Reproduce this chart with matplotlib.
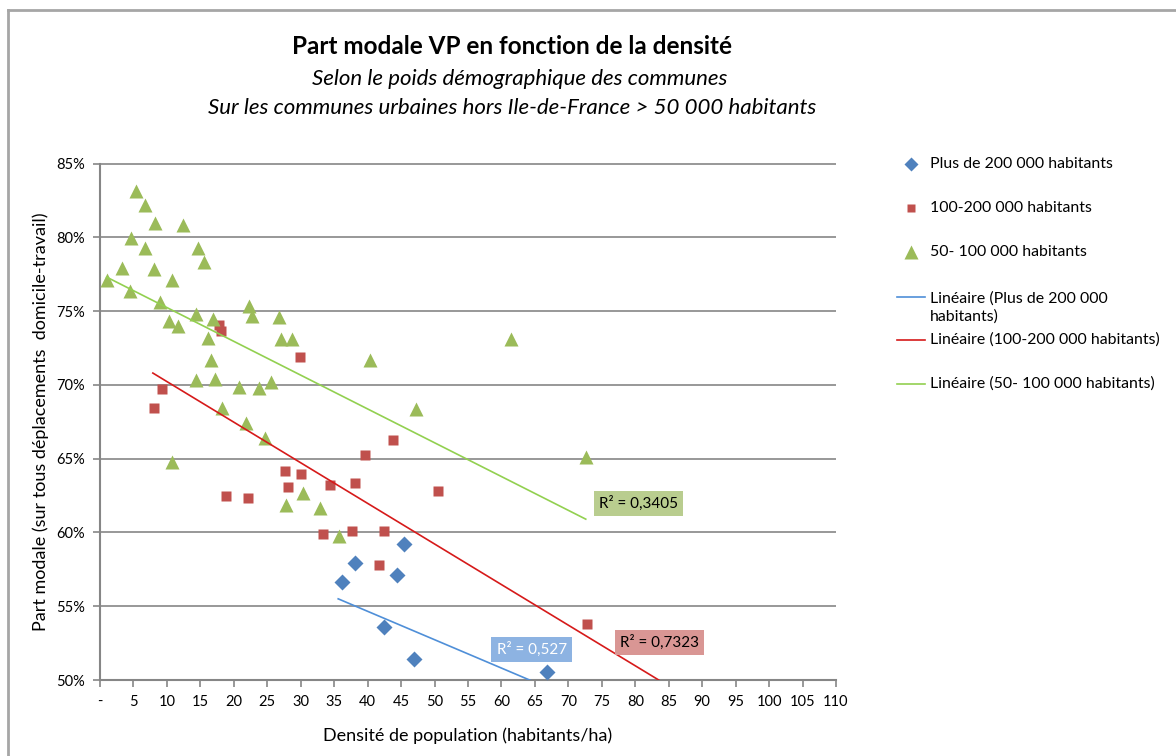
import matplotlib as mpl
mpl.use('Agg')
import matplotlib.pyplot as plt
from matplotlib.lines import Line2D
from matplotlib.ticker import FuncFormatter, MultipleLocator

# densité (habitants/ha) et part modale VP (%) par taille de commune
big_x = [45.47, 38.1, 44.33, 36.17, 42.39, 46.87, 66.76]
big_y = [59.19, 57.91, 57.11, 56.62, 53.61, 51.44, 50.56]

mid_x = [9.2, 8.01, 17.86, 18.06, 29.85, 18.8, 22.19, 27.6, 30.0, 28.06,
         34.43, 33.33, 37.71, 38.15, 39.65, 42.49, 41.74, 43.83, 50.55, 72.79]
mid_y = [69.74, 68.41, 74.06, 73.65, 71.91, 62.47, 62.31, 64.18, 63.98, 63.10,
         63.23, 59.87, 60.10, 63.35, 65.23, 60.10, 57.81, 66.26, 62.81, 53.79]

small_x = [5.37, 6.72, 8.25, 12.34, 4.58, 6.67, 14.63, 15.47, 3.33, 8.06,
           1.04, 10.75, 4.53, 8.96, 22.29, 22.78, 26.72, 14.38, 16.92, 10.35,
           11.64, 16.07, 27.06, 28.66, 16.6, 14.38, 17.21, 20.75, 23.73, 25.52,
           18.3, 21.84, 24.68, 10.7, 30.3, 27.76, 32.88, 35.72, 40.34, 47.16,
           61.49, 72.6]
small_y = [83.16, 82.19, 80.99, 80.83, 79.93, 79.29, 79.25, 78.30, 77.92, 77.87,
           77.09, 77.13, 76.36, 75.61, 75.34, 74.67, 74.58, 74.78, 74.44, 74.33,
           74.01, 73.15, 73.09, 73.09, 71.68, 70.33, 70.40, 69.83, 69.77, 70.21,
           68.41, 67.39, 66.38, 64.79, 62.65, 61.86, 61.68, 59.76, 71.68, 68.36,
           73.09, 65.09]

# courbes de tendance linéaires (début / fin)
big_trend_x, big_trend_y = [35.6, 66.8], [55.5, 49.5]
mid_trend_x, mid_trend_y = [7.9, 83.5], [70.8, 50.0]
small_trend_x, small_trend_y = [1.0, 72.6], [77.3, 60.9]

r2_big, r2_mid, r2_small = '0,527', '0,7323', '0,3405'

labels = ['Plus de 200 000 habitants', '100-200 000 habitants', '50- 100 000 habitants']
trend_labels = ['Linéaire (Plus de 200 000\nhabitants)',
                'Linéaire (100-200 000 habitants)',
                'Linéaire (50- 100 000 habitants)']

BLUE, RED, GREEN = '#4f81bd', '#c0504d', '#9bbb59'
BLUE_L, RED_L, GREEN_L = '#4f8fd8', '#d61a1a', '#92d050'
GRID = '#868686'

plt.rcParams['font.family'] = ['Lato', 'DejaVu Sans']

W, H = 1176, 756
fig = plt.figure(figsize=(W / 100, H / 100), dpi=100)
ax = fig.add_axes([100 / W, 1 - 680 / H, 736 / W, 516.5 / H])

ax.plot(big_x, big_y, 'D', color=BLUE, ms=8, mec='none', zorder=3)
ax.plot(mid_x, mid_y, 's', color=RED, ms=6.5, mec='none', zorder=3)
ax.plot(small_x, small_y, '^', color=GREEN, ms=10, mec='none', zorder=3)

ax.plot(big_trend_x, big_trend_y, color=BLUE_L, lw=1.2, zorder=4)
ax.plot(mid_trend_x, mid_trend_y, color=RED_L, lw=1.2, zorder=4)
ax.plot(small_trend_x, small_trend_y, color=GREEN_L, lw=1.2, zorder=4)

ax.set_xlim(0, 110)
ax.set_ylim(50, 85)
ax.xaxis.set_major_locator(MultipleLocator(5))
ax.yaxis.set_major_locator(MultipleLocator(5))
ax.xaxis.set_major_formatter(FuncFormatter(lambda v, p: '-' if v == 0 else '%d' % v))
ax.yaxis.set_major_formatter(FuncFormatter(lambda v, p: '%d%%' % v))
ax.tick_params(labelsize=10.5, color=GRID, length=5, width=1.2, pad=6)
ax.grid(True, axis='y', color=GRID, lw=1.2, zorder=0)
for s in ['top', 'right']:
    ax.spines[s].set_visible(False)
for s in ['left', 'bottom']:
    ax.spines[s].set_color(GRID)
    ax.spines[s].set_linewidth(1.5)
ax.set_axisbelow(True)

ax.set_xlabel('Densité de population (habitants/ha)', fontsize=13, labelpad=13)
ax.set_ylabel('Part modale (sur tous déplacements  domicile-travail)', fontsize=13, labelpad=5)

# étiquettes R²
ax.text(80.5, 61.96, 'R² = ' + r2_small, fontsize=11, ha='center', va='center',
        bbox=dict(boxstyle='square,pad=0.35', fc='#b9cd8f', ec='none'), zorder=5)
ax.text(64.5, 52.07, 'R² = ' + r2_big, fontsize=11, ha='center', va='center', color='white',
        bbox=dict(boxstyle='square,pad=0.35', fc='#8db3e2', ec='none'), zorder=5)
ax.text(83.6, 52.54, 'R² = ' + r2_mid, fontsize=11, ha='center', va='center',
        bbox=dict(boxstyle='square,pad=0.35', fc='#d99694', ec='none'), zorder=5)

# titres
fig.text(512 / W, 1 - 47 / H, 'Part modale VP en fonction de la densité',
         fontsize=17.5, fontweight='bold', ha='center', va='center')
fig.text(520 / W, 1 - 79 / H, 'Selon le poids démographique des communes',
         fontsize=16, style='italic', ha='center', va='center')
fig.text(512 / W, 1 - 108 / H, 'Sur les communes urbaines hors Ile-de-France > 50 000 habitants',
         fontsize=16, style='italic', ha='center', va='center')

# légende
def fx(px):
    return px / W

def fy(py):
    return 1 - py / H

for (mk, c, ms), lab, py in zip([('D', BLUE, 7.5), ('s', RED, 5.5), ('^', GREEN, 10)],
                                labels, [164, 208, 252]):
    fig.add_artist(Line2D([fx(911)], [fy(py)], marker=mk, color=c, ms=ms, mec='none',
                          transform=fig.transFigure))
    fig.text(fx(930), fy(py), lab, fontsize=11.4, va='center', ha='left')

for c, lab, py, ty in zip([BLUE_L, RED_L, GREEN_L], trend_labels,
                          [297, 340, 384], [307.5, 340, 384]):
    fig.add_artist(Line2D([fx(897), fx(925)], [fy(py)] * 2, color=c, lw=1.2,
                          transform=fig.transFigure))
    fig.text(fx(930), fy(ty), lab, fontsize=11.4, va='center', ha='left', linespacing=1.4)

# cadre du graphique
fig.add_artist(Line2D([fx(8), 1], [fy(10)] * 2, color='#a6a6a6', lw=2, transform=fig.transFigure))
fig.add_artist(Line2D([fx(8)] * 2, [0, fy(10)], color='#a6a6a6', lw=2, transform=fig.transFigure))

fig.savefig('out.png', dpi=100)
